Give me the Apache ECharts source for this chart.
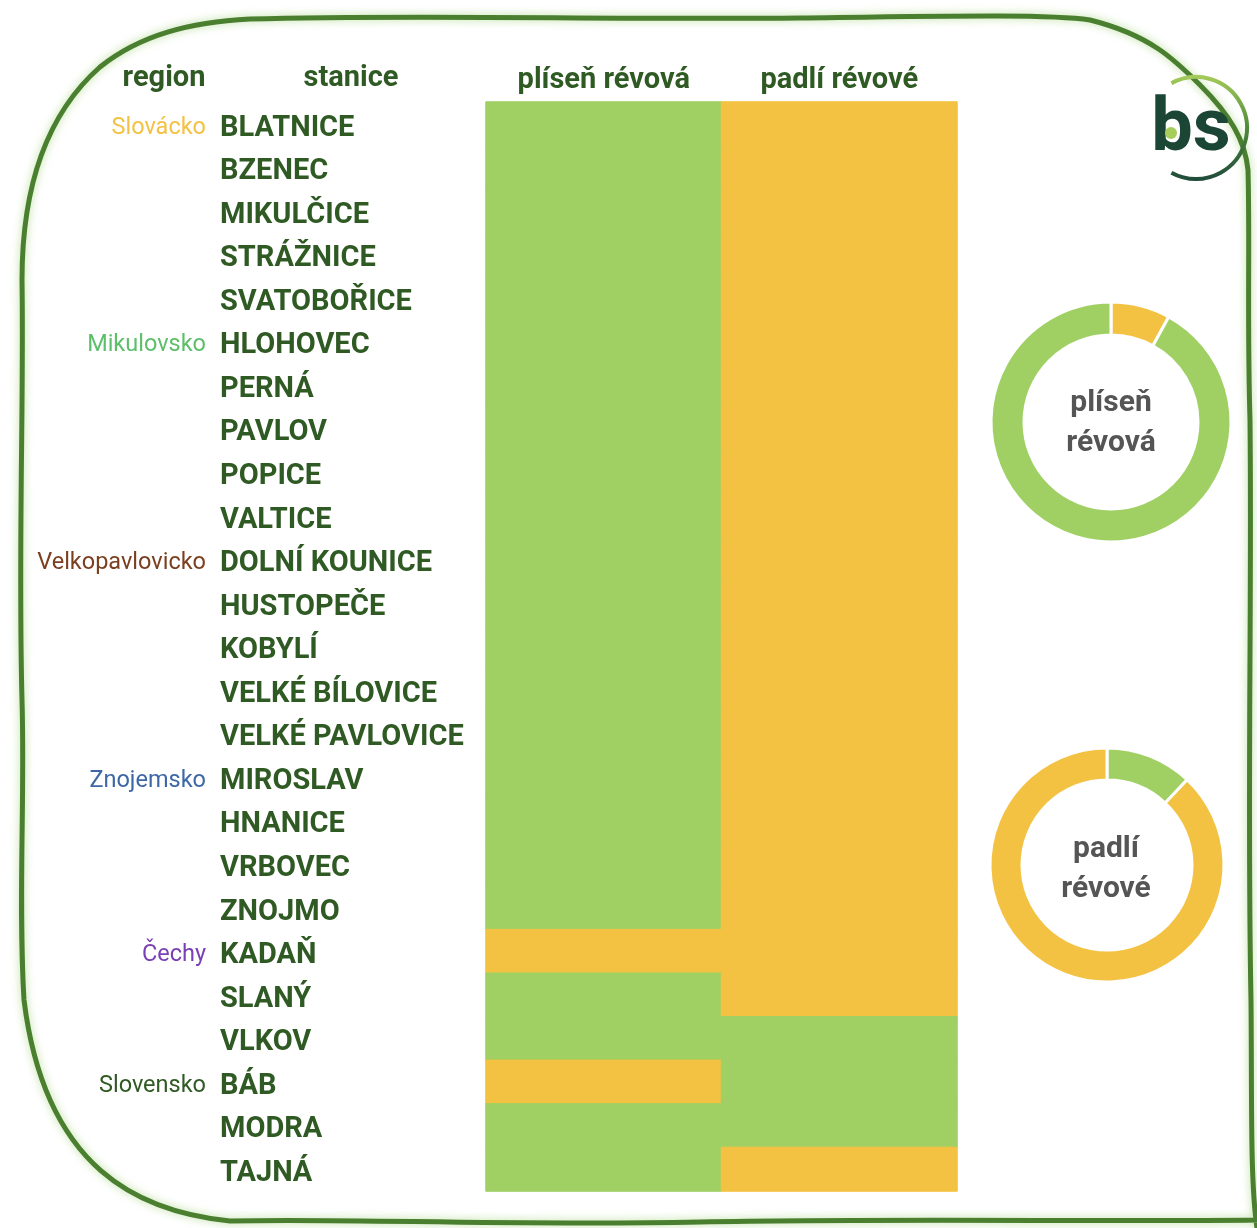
<!DOCTYPE html>
<html>
<head>
<meta charset="utf-8">
<script src="https://cdn.jsdelivr.net/npm/echarts@6/dist/echarts.min.js"></script>
<style>
	html, body { margin:0; padding:0; background:#fff; }
	#main { width:1257px; height:1228px; }
</style>
</head>
<body>
<div id="main"></div>
<script>
// data: 1 = green (ok), 0 = yellow
var stations = ['BLATNICE','BZENEC','MIKULČICE','STRÁŽNICE','SVATOBOŘICE','HLOHOVEC','PERNÁ','PAVLOV','POPICE','VALTICE',
	'DOLNÍ KOUNICE','HUSTOPEČE','KOBYLÍ','VELKÉ BÍLOVICE','VELKÉ PAVLOVICE','MIROSLAV','HNANICE','VRBOVEC','ZNOJMO',
	'KADAŇ','SLANÝ','VLKOV','BÁB','MODRA','TAJNÁ'];
var regions = ['Slovácko','','','','','Mikulovsko','','','','','Velkopavlovicko','','','','','Znojemsko','','','',
	'Čechy','','','Slovensko','',''];
var regionKeys = ['slo','','','','','mik','','','','','vel','','','','','zno','','','','cec','','','svk','',''];
var diseases = ['plíseň révová','padlí révové'];
var plisen = [1,1,1,1,1,1,1,1,1,1,1,1,1,1,1,1,1,1,1,0,1,1,0,1,1];
var padli  = [0,0,0,0,0,0,0,0,0,0,0,0,0,0,0,0,0,0,0,0,0,1,1,1,0];

var GREEN = '#a0d064', YELLOW = '#f4c242', DARK = '#2f5a23';

function cell(x, y, v) {
	var c = v ? GREEN : YELLOW;
	return { value: [x, y, v], itemStyle: { color: c, borderColor: c, borderWidth: 1 } };
}
var cells = [];
for (var i = 0; i < stations.length; i++) {
	cells.push(cell(0, i, plisen[i]));
	cells.push(cell(1, i, padli[i]));
}
function count(arr, v) {
	var n = 0;
	for (var i = 0; i < arr.length; i++) if (arr[i] === v) n++;
	return n;
}

// wobbly frame round the whole thing
var framePath = 'M 250 19 C 420 14, 600 20, 800 18 C 950 16, 1050 14, 1090 20 ' +
	'C 1150 35, 1175 60, 1200 85 C 1230 115, 1245 140, 1248 170 C 1250 240, 1247 320, 1250 420 C 1252 600, 1247 800, 1251 1000 ' +
	'C 1252 1100, 1250 1180, 1257 1228 ' +
	'M 1257 1220 C 1100 1222, 900 1218, 700 1222 C 500 1226, 350 1218, 230 1221 ' +
	'C 140 1212, 45 1170, 24 1000 C 18 900, 25 800, 22 700 C 18 550, 24 400, 22 280 ' +
	'C 22 200, 40 120, 100 67 C 140 35, 190 22, 250 19';

var lab = { color: DARK, fontSize: 29, fontWeight: 'bold', fontFamily: 'Roboto', padding: [9, 0, 0, 0] };

var myChart = echarts.init(document.getElementById('main'));
var option = {
	backgroundColor: '#fff',
	animation: false,
	grid: { left: 486, top: 102, width: 471, height: 1089 },
	xAxis: {
		type: 'category', position: 'top', data: diseases,
		axisLine: { show: false }, axisTick: { show: false }, splitLine: { show: false },
		axisLabel: { color: DARK, fontSize: 29, fontWeight: 'bold', fontFamily: 'Roboto', margin: 7 }
	},
	yAxis: [{
		type: 'category', data: stations, inverse: true,
		axisLine: { show: false }, axisTick: { show: false }, splitLine: { show: false },
		axisLabel: { align: 'left', margin: 266, interval: 0,
			formatter: function (v) { return '{s|' + v + '}'; },
			rich: { s: lab } }
	}, {
		type: 'category', data: regions, inverse: true, position: 'left',
		axisLine: { show: false }, axisTick: { show: false }, splitLine: { show: false },
		axisLabel: {
			align: 'right', margin: 280, fontSize: 23.5, fontFamily: 'Roboto', interval: 0, padding: [8, 0, 0, 0],
			formatter: function (v, idx) { return v ? '{' + regionKeys[idx] + '|' + v + '}' : ''; },
			rich: {
				slo: { color: '#f4c242', fontSize: 23.5, fontFamily: 'Roboto' },
				mik: { color: '#5cbf6a', fontSize: 23.5, fontFamily: 'Roboto' },
				vel: { color: '#7b3f1f', fontSize: 23.5, fontFamily: 'Roboto' },
				zno: { color: '#3d67a6', fontSize: 23.5, fontFamily: 'Roboto' },
				cec: { color: '#7a3fb5', fontSize: 23.5, fontFamily: 'Roboto' },
				svk: { color: DARK, fontSize: 23.5, fontFamily: 'Roboto' }
			}
		}
	}],
	graphic: [
		{ type: 'text', x: 164, y: 79, style: { text: 'region', fill: DARK, font: 'bold 29px Roboto', align: 'center', verticalAlign: 'middle' } },
		{ type: 'text', x: 351, y: 79, style: { text: 'stanice', fill: DARK, font: 'bold 29px Roboto', align: 'center', verticalAlign: 'middle' } },
		// bs logo
		{
			type: 'arc', shape: { cx: 1196, cy: 128, r: 51, startAngle: -Math.PI * 0.66, endAngle: Math.PI * 0.66 },
			style: {
				fill: null, lineWidth: 4,
				stroke: { type: 'linear', x: 0, y: 0, x2: 0, y2: 1, colorStops: [
					{ offset: 0, color: '#a6cc5a' }, { offset: 0.5, color: '#4f8a3a' }, { offset: 1, color: '#1e4a3a' }
				] }
			}
		},
		{ type: 'text', x: 1191, y: 131, style: { text: 'bs', fill: '#1b4636', font: 'bold 74px Roboto', align: 'center', verticalAlign: 'middle' } },
		{ type: 'circle', shape: { cx: 1171, cy: 133, r: 6 }, style: { fill: '#a6cc5a' }, z: 100 },
		// donut centre labels
		{ type: 'text', x: 1111, y: 423, style: { text: 'plíseň\nrévová', fill: '#555', font: 'bold 30px Roboto', align: 'center', verticalAlign: 'middle', lineHeight: 40 } },
		{ type: 'text', x: 1106, y: 869, style: { text: 'padlí\nrévové', fill: '#555', font: 'bold 30px Roboto', align: 'center', verticalAlign: 'middle', lineHeight: 40 } }
	],
	series: [{
		type: 'heatmap', data: cells, xAxisIndex: 0, yAxisIndex: 0, label: { show: false }
	}, {
		type: 'pie', center: [1111, 422], radius: [87, 120], startAngle: 90, clockwise: true,
		label: { show: false }, labelLine: { show: false },
		itemStyle: { borderColor: '#fff', borderWidth: 3 },
		data: [
			{ name: 'problém', value: count(plisen, 0), itemStyle: { color: YELLOW } },
			{ name: 'ok', value: count(plisen, 1), itemStyle: { color: GREEN } }
		]
	}, {
		type: 'pie', center: [1107, 865], radius: [85, 117], startAngle: 90, clockwise: true,
		label: { show: false }, labelLine: { show: false },
		itemStyle: { borderColor: '#fff', borderWidth: 3 },
		data: [
			{ name: 'ok', value: count(padli, 1), itemStyle: { color: GREEN } },
			{ name: 'problém', value: count(padli, 0), itemStyle: { color: YELLOW } }
		]
	}, {
		type: 'custom', coordinateSystem: 'none', data: [0], silent: true, z: -1,
		renderItem: function () {
			return {
				type: 'path',
				shape: { pathData: framePath },
				style: { fill: 'none', stroke: '#4a7f2f', lineWidth: 5, shadowBlur: 8, shadowColor: 'rgba(140,200,90,0.6)' }
			};
		}
	}]
};
myChart.setOption(option);
</script>
</body>
</html>
